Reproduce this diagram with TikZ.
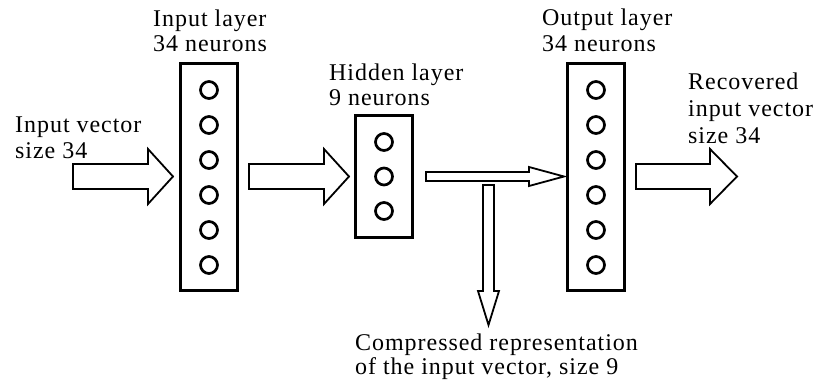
\documentclass[tikz,border=0pt]{standalone}
\usepackage{fontspec}
\setmainfont{Liberation Serif}[LetterSpace=4]
\begin{document}
\begin{tikzpicture}[x=1pt,y=-1pt,
  layerbox/.style={draw, line width=3pt, inner sep=0pt, minimum width=57pt},
  neuron/.style={draw, line width=2.7pt, circle, minimum size=17pt, inner sep=0pt},
  blockarrow/.style={draw, line width=1.8pt, fill=white, line join=miter},
  lbl/.style={anchor=base west, inner sep=0pt, font=\fontsize{24}{26}\selectfont}]
\useasboundingbox (0,0) rectangle (813,385);
\fill[white] (0,0) rectangle (813,385);

% layer boxes
\node[layerbox, minimum height=227pt] (inbox) at (209,177) {};
\node[layerbox, minimum height=122pt] (hidbox) at (384,176.5) {};
\node[layerbox, minimum height=227pt] (outbox) at (596,177) {};

% neurons
\foreach \k in {0,...,5} {
  \node[neuron] (in\k) at (209,{90+35*\k}) {};
  \node[neuron] (out\k) at (596,{90+35*\k}) {};
}
\foreach \k in {0,1,2} {
  \node[neuron] (hid\k) at (384,{142+34.5*\k}) {};
}

% block arrows
\draw[blockarrow] (73,164) -- (148,164) -- (148,149) -- (173,176.5) -- (148,204) -- (148,189) -- (73,189) -- cycle;
\draw[blockarrow] (249,164) -- (324,164) -- (324,149) -- (349,176.5) -- (324,204) -- (324,189) -- (249,189) -- cycle;
\draw[blockarrow] (636,164) -- (710,164) -- (710,149) -- (737,176.5) -- (710,204) -- (710,189) -- (636,189) -- cycle;
\draw[blockarrow] (426,172) -- (529,172) -- (529,167) -- (564,176.5) -- (529,186) -- (529,181) -- (426,181) -- cycle;
\draw[blockarrow] (483,185) -- (483,291) -- (478,291) -- (488.5,325) -- (499,291) -- (494,291) -- (494,185) -- cycle;

% labels
\node[lbl] (iv1) at (15,132) {Input vector};
\node[lbl] (iv2) at (15,158) {size 34};
\node[lbl] (il1) at (153,27) {Input layer};
\node[lbl] (il2) at (153,52) {34 neurons};
\node[lbl] (hl1) at (329,81) {Hidden layer};
\node[lbl] (hl2) at (329,106) {9 neurons};
\node[lbl] (ol1) at (542,26) {Output layer};
\node[lbl] (ol2) at (542,52) {34 neurons};
\node[lbl] (rv1) at (688,90) {Recovered};
\node[lbl] (rv2) at (688,117) {input vector};
\node[lbl] (rv3) at (688,143) {size 34};
\node[lbl] (cr1) at (355,350) {Compressed representation};
\node[lbl] (cr2) at (355,374) {of the input vector, size 9};
\end{tikzpicture}
\end{document}
